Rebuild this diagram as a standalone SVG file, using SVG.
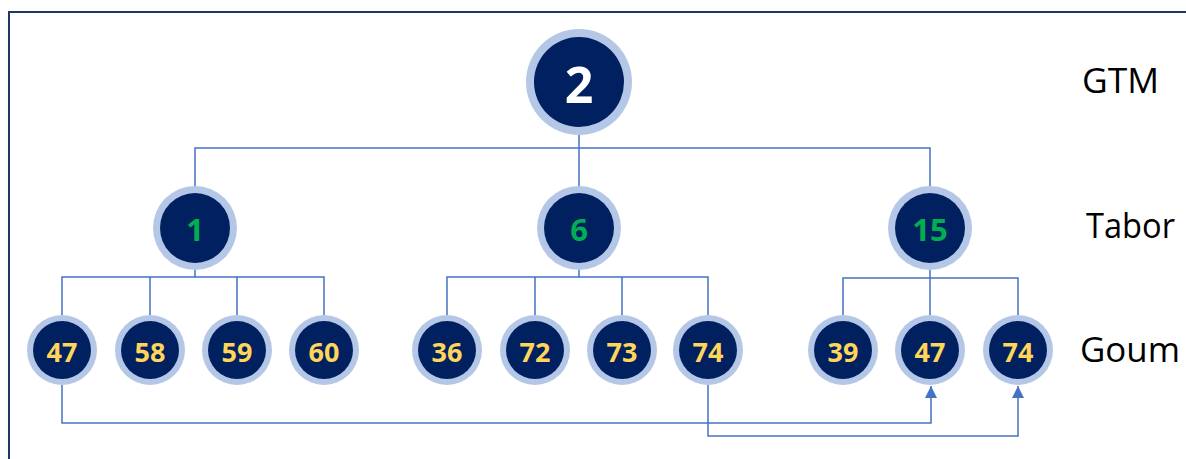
<svg xmlns="http://www.w3.org/2000/svg" width="1186" height="459" viewBox="0 0 1186 459">
<defs>
<style>
.ring{fill:#B4C7E7}
.core{fill:#002060}
.conn{fill:none;stroke:#4472C4;stroke-width:1.5}
.num{font-family:"Open Sans","Liberation Sans",sans-serif;font-weight:bold;text-anchor:middle;dominant-baseline:central}
.g{fill:#00B050;font-size:31px}
.y{fill:#FFD55A;font-size:27px}
.w{fill:#FFFFFF;font-size:50px}
.lbl{font-family:"Open Sans","Liberation Sans",sans-serif;fill:#000;font-size:34px}
</style>
<marker id="arr" viewBox="0 0 12 12" refX="12" refY="6" markerWidth="12" markerHeight="12" markerUnits="userSpaceOnUse" orient="auto">
<path d="M0,0 L12,6 L0,12 z" fill="#4472C4"/>
</marker>
</defs>
<rect width="1186" height="459" fill="#FFFFFF"/>
<rect x="9" y="12" width="1250" height="500" fill="none" stroke="#1F3864" stroke-width="2"/>
<g id="connectors">
<path class="conn" d="M579,135 V228"/>
<path class="conn" d="M195,186 V148 H930 V186"/>
<path class="conn" d="M195,270 V277 M62,315 V277 H324 V315 M150,277 V315 M237,277 V315"/>
<path class="conn" d="M579,270 V277 M447,315 V277 H708 V315 M535,277 V315 M622,277 V315"/>
<path class="conn" d="M930,270 V315 M843,315 V278 H1018 V315"/>
<path class="conn" d="M62,385 V423 H931 V386" marker-end="url(#arr)"/>
<path class="conn" d="M708,385 V436 H1018 V386" marker-end="url(#arr)"/>
</g>
<g id="n-gtm-2"><circle class="ring" cx="579" cy="82" r="53"/><circle class="core" cx="579" cy="82" r="45"/><text class="num w" x="579" y="84">2</text></g>
<g id="n-tabor-1"><circle class="ring" cx="195" cy="228" r="42"/><circle class="core" cx="195" cy="228" r="35"/><text class="num g" x="195" y="229">1</text></g>
<g id="n-tabor-6"><circle class="ring" cx="579" cy="228" r="42"/><circle class="core" cx="579" cy="228" r="35"/><text class="num g" x="579" y="229">6</text></g>
<g id="n-tabor-15"><circle class="ring" cx="930" cy="228" r="42"/><circle class="core" cx="930" cy="228" r="35"/><text class="num g" x="930" y="229">15</text></g>
<g id="n-goum-47a"><circle class="ring" cx="62" cy="350" r="35"/><circle class="core" cx="62" cy="350" r="29"/><text class="num y" x="62" y="351">47</text></g>
<g id="n-goum-58"><circle class="ring" cx="150" cy="350" r="35"/><circle class="core" cx="150" cy="350" r="29"/><text class="num y" x="150" y="351">58</text></g>
<g id="n-goum-59"><circle class="ring" cx="237" cy="350" r="35"/><circle class="core" cx="237" cy="350" r="29"/><text class="num y" x="237" y="351">59</text></g>
<g id="n-goum-60"><circle class="ring" cx="324" cy="350" r="35"/><circle class="core" cx="324" cy="350" r="29"/><text class="num y" x="324" y="351">60</text></g>
<g id="n-goum-36"><circle class="ring" cx="447" cy="350" r="35"/><circle class="core" cx="447" cy="350" r="29"/><text class="num y" x="447" y="351">36</text></g>
<g id="n-goum-72"><circle class="ring" cx="535" cy="350" r="35"/><circle class="core" cx="535" cy="350" r="29"/><text class="num y" x="535" y="351">72</text></g>
<g id="n-goum-73"><circle class="ring" cx="622" cy="350" r="35"/><circle class="core" cx="622" cy="350" r="29"/><text class="num y" x="622" y="351">73</text></g>
<g id="n-goum-74a"><circle class="ring" cx="708" cy="350" r="35"/><circle class="core" cx="708" cy="350" r="29"/><text class="num y" x="708" y="351">74</text></g>
<g id="n-goum-39"><circle class="ring" cx="843" cy="350" r="35"/><circle class="core" cx="843" cy="350" r="29"/><text class="num y" x="843" y="351">39</text></g>
<g id="n-goum-47b"><circle class="ring" cx="930" cy="350" r="35"/><circle class="core" cx="930" cy="350" r="29"/><text class="num y" x="930" y="351">47</text></g>
<g id="n-goum-74b"><circle class="ring" cx="1018" cy="350" r="35"/><circle class="core" cx="1018" cy="350" r="29"/><text class="num y" x="1018" y="351">74</text></g>
<g id="labels">
<text class="lbl" x="1082" y="93" textLength="77" lengthAdjust="spacingAndGlyphs">GTM</text>
<text class="lbl" x="1086" y="238" textLength="89" lengthAdjust="spacingAndGlyphs">Tabor</text>
<text class="lbl" x="1080" y="362" textLength="100" lengthAdjust="spacingAndGlyphs">Goum</text>
</g>
</svg>
